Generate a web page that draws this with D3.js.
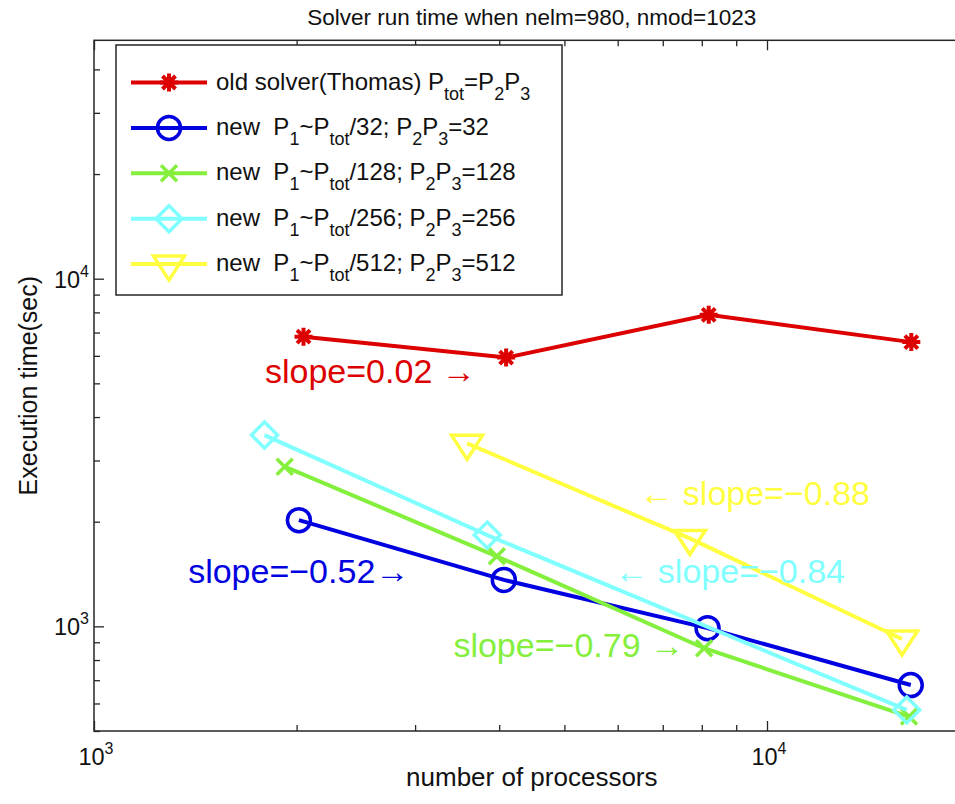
<!DOCTYPE html>
<html>
<head>
<meta charset="utf-8">
<script src="https://cdn.jsdelivr.net/npm/d3@7"></script>
<style>
  body { margin: 0; background: #fff; }
  text { font-family: "Liberation Sans", Arial, Helvetica, sans-serif; }
</style>
</head>
<body>
<svg id="chart" width="955" height="804"></svg>
<script>
// ---- data: processor counts and solver run times (sec) ----
const oldProcs  = [2048, 4096, 8192, 16384];
const oldTimes  = [6810, 5930, 7870, 6570];
const p32Procs  = [2016, 4064, 8160, 16352];
const p32Times  = [2020, 1360, 988, 678];
const p128Procs = [1920, 3968, 8064, 16256];
const p128Times = [2880, 1590, 865, 550];
const p256Procs = [1792, 3840, 16128];
const p256Times = [3550, 1830, 575];
const p512Procs = [3584, 7680, 15872];
const p512Times = [3360, 1790, 920];

const seriesColors  = ["#dc0000", "#0000e0", "#84ef3c", "#80ffff", "#ffff40"];
const seriesMarkers = ["star", "circle", "cross", "diamond", "triangle"];

// legend labels: [text, isSubscript]
const legendLabels = [
  [["old solver(Thomas) P"], ["tot", 1], ["=P"], ["2", 1], ["P"], ["3", 1]],
  [["new  P"], ["1", 1], ["~P"], ["tot", 1], ["/32; P"], ["2", 1], ["P"], ["3", 1], ["=32"]],
  [["new  P"], ["1", 1], ["~P"], ["tot", 1], ["/128; P"], ["2", 1], ["P"], ["3", 1], ["=128"]],
  [["new  P"], ["1", 1], ["~P"], ["tot", 1], ["/256; P"], ["2", 1], ["P"], ["3", 1], ["=256"]],
  [["new  P"], ["1", 1], ["~P"], ["tot", 1], ["/512; P"], ["2", 1], ["P"], ["3", 1], ["=512"]]
];

// slope annotations, anchored in data coordinates
const slopeTexts   = ["slope=0.02 \u2192", "slope=\u22120.52\u2192", "slope=\u22120.79 \u2192", "\u2190 slope=\u22120.84", "\u2190 slope=\u22120.88"];
const slopeAtProcs = [1795, 1380, 3420, 13060, 14225];
const slopeAtTimes = [5010, 1333, 815, 1332, 2234];
const slopeAnchor  = ["start", "start", "start", "end", "end"];
const slopeColor   = [0, 1, 2, 3, 4];

const xMajor = [1000, 10000];
const xMinor = [2000, 3000, 4000, 5000, 6000, 7000, 8000, 9000];
const yMajor = [1000, 10000];
const yMinor = [500, 600, 700, 800, 900, 2000, 3000, 4000, 5000, 6000, 7000, 8000, 9000, 20000, 30000, 40000];
const xMajorExp = [3, 4];
const yMajorExp = [3, 4];

const titleText = "Solver run time when nelm=980, nmod=1023";
const xLabel = "number of processors";
const yLabel = "Execution time(sec)";

// ---- layout ----
const svg = d3.select("#chart");
const L = 94, R = 969.6, T = 40.3, B = 731;
const x = d3.scaleLog().domain([1000, 20000]).range([L, R]);
const y = d3.scaleLog().domain([500, 48500]).range([B, T]);
const axisColor = "#262626";

// axis box
svg.append("rect")
  .attr("x", L).attr("y", T).attr("width", R - L).attr("height", B - T)
  .attr("fill", "none").attr("stroke", axisColor).attr("stroke-width", 1.5);

function tickAxis(gen, scale, values, size, transform) {
  const g = svg.append("g").attr("transform", transform)
    .call(gen(scale).tickValues(values).tickSize(size).tickSizeOuter(0).tickFormat(""));
  g.select(".domain").remove();
  g.selectAll("line").attr("stroke", axisColor).attr("stroke-width", 1.3);
  return g;
}
// ticks point inward on all four sides
tickAxis(d3.axisBottom, x, xMajor, -10, `translate(0,${B})`);
tickAxis(d3.axisBottom, x, xMinor, -6, `translate(0,${B})`);
tickAxis(d3.axisTop, x, xMajor, -10, `translate(0,${T})`);
tickAxis(d3.axisTop, x, xMinor, -6, `translate(0,${T})`);
tickAxis(d3.axisLeft, y, yMajor, -10, `translate(${L},0)`);
tickAxis(d3.axisLeft, y, yMinor, -6, `translate(${L},0)`);
tickAxis(d3.axisRight, y, yMajor, -10, `translate(${R},0)`);
tickAxis(d3.axisRight, y, yMinor, -6, `translate(${R},0)`);

// power-of-ten tick labels
xMajor.forEach((v, i) => {
  const t = svg.append("text").attr("x", x(v) + 2).attr("y", 765)
    .attr("text-anchor", "middle").attr("font-size", 23.5).attr("fill", "#111");
  t.append("tspan").text("10");
  t.append("tspan").attr("dy", -11).attr("font-size", 16).text(xMajorExp[i]);
});
yMajor.forEach((v, i) => {
  const t = svg.append("text").attr("x", L - 5).attr("y", y(v) + 9)
    .attr("text-anchor", "end").attr("font-size", 23.5).attr("fill", "#111");
  t.append("tspan").text("10");
  t.append("tspan").attr("dy", -11).attr("font-size", 16).text(yMajorExp[i]);
});

// title and axis labels
svg.append("text").attr("x", (L + R) / 2).attr("y", 25).attr("text-anchor", "middle")
  .attr("font-size", 22.5).attr("fill", "#111").text(titleText);
svg.append("text").attr("x", (L + R) / 2).attr("y", 786).attr("text-anchor", "middle")
  .attr("font-size", 26).attr("fill", "#111").text(xLabel);
svg.append("text").attr("transform", `translate(37,${(T + B) / 2}) rotate(-90)`)
  .attr("text-anchor", "middle").attr("font-size", 25).attr("fill", "#111").text(yLabel);

// ---- markers ----
function markerPath(kind) {
  switch (kind) {
    case "star": {
      const s = 9, d = 6.5;
      return `M${-s},0H${s}M0,${-s}V${s}M${-d},${-d}L${d},${d}M${-d},${d}L${d},${-d}`;
    }
    case "circle":
      return d3.arc()({ innerRadius: 0, outerRadius: 11.5, startAngle: 0, endAngle: 2 * Math.PI });
    case "cross": {
      const s = 8;
      return `M${-s},${-s}L${s},${s}M${-s},${s}L${s},${-s}`;
    }
    case "diamond": {
      const s = 13;
      return `M0,${-s}L${s},0L0,${s}L${-s},0Z`;
    }
    case "triangle":
      return "M-15.5,-8L15.5,-8L0,16Z";
  }
}

const series = [
  { procs: oldProcs,  times: oldTimes },
  { procs: p32Procs,  times: p32Times },
  { procs: p128Procs, times: p128Times },
  { procs: p256Procs, times: p256Times },
  { procs: p512Procs, times: p512Times }
];

const line = d3.line().x(d => x(d[0])).y(d => y(d[1]));
const plot = svg.append("g");

series.forEach((s, i) => {
  const pts = s.procs.map((p, k) => [p, s.times[k]]);
  plot.append("path").attr("d", line(pts)).attr("fill", "none")
    .attr("stroke", seriesColors[i]).attr("stroke-width", 4)
    .attr("stroke-linejoin", "miter");
  plot.selectAll(null).data(pts).enter().append("path")
    .attr("transform", d => `translate(${x(d[0])},${y(d[1])})`)
    .attr("d", markerPath(seriesMarkers[i]))
    .attr("fill", "none").attr("stroke", seriesColors[i])
    .attr("stroke-width", seriesMarkers[i] === "star" ? 4 : 3.5);
});

// slope annotations
slopeTexts.forEach((txt, i) => {
  svg.append("text")
    .attr("x", x(slopeAtProcs[i])).attr("y", y(slopeAtTimes[i]))
    .attr("text-anchor", slopeAnchor[i]).attr("font-size", 34)
    .attr("fill", seriesColors[slopeColor[i]]).text(txt);
});

// ---- legend ----
const lg = svg.append("g");
lg.append("rect").attr("x", 116).attr("y", 45).attr("width", 446).attr("height", 250)
  .attr("fill", "#fff").attr("stroke", axisColor).attr("stroke-width", 1.5);

legendLabels.forEach((parts, i) => {
  const cy = 82.5 + i * 45.4;
  lg.append("line").attr("x1", 131).attr("x2", 207).attr("y1", cy).attr("y2", cy)
    .attr("stroke", seriesColors[i]).attr("stroke-width", 4);
  lg.append("path").attr("transform", `translate(169,${cy})`)
    .attr("d", markerPath(seriesMarkers[i])).attr("fill", "none")
    .attr("stroke", seriesColors[i])
    .attr("stroke-width", seriesMarkers[i] === "star" ? 4 : 3.5);
  const t = lg.append("text").attr("x", 216).attr("y", cy + 7)
    .attr("font-size", 24).attr("fill", "#111").style("white-space", "pre");
  let shifted = false;
  parts.forEach(p => {
    const ts = t.append("tspan").text(p[0]);
    if (p[1]) {
      ts.attr("font-size", 18);
      if (!shifted) { ts.attr("dy", 10); shifted = true; }
    } else if (shifted) {
      ts.attr("dy", -10); shifted = false;
    }
  });
});
</script>
</body>
</html>
